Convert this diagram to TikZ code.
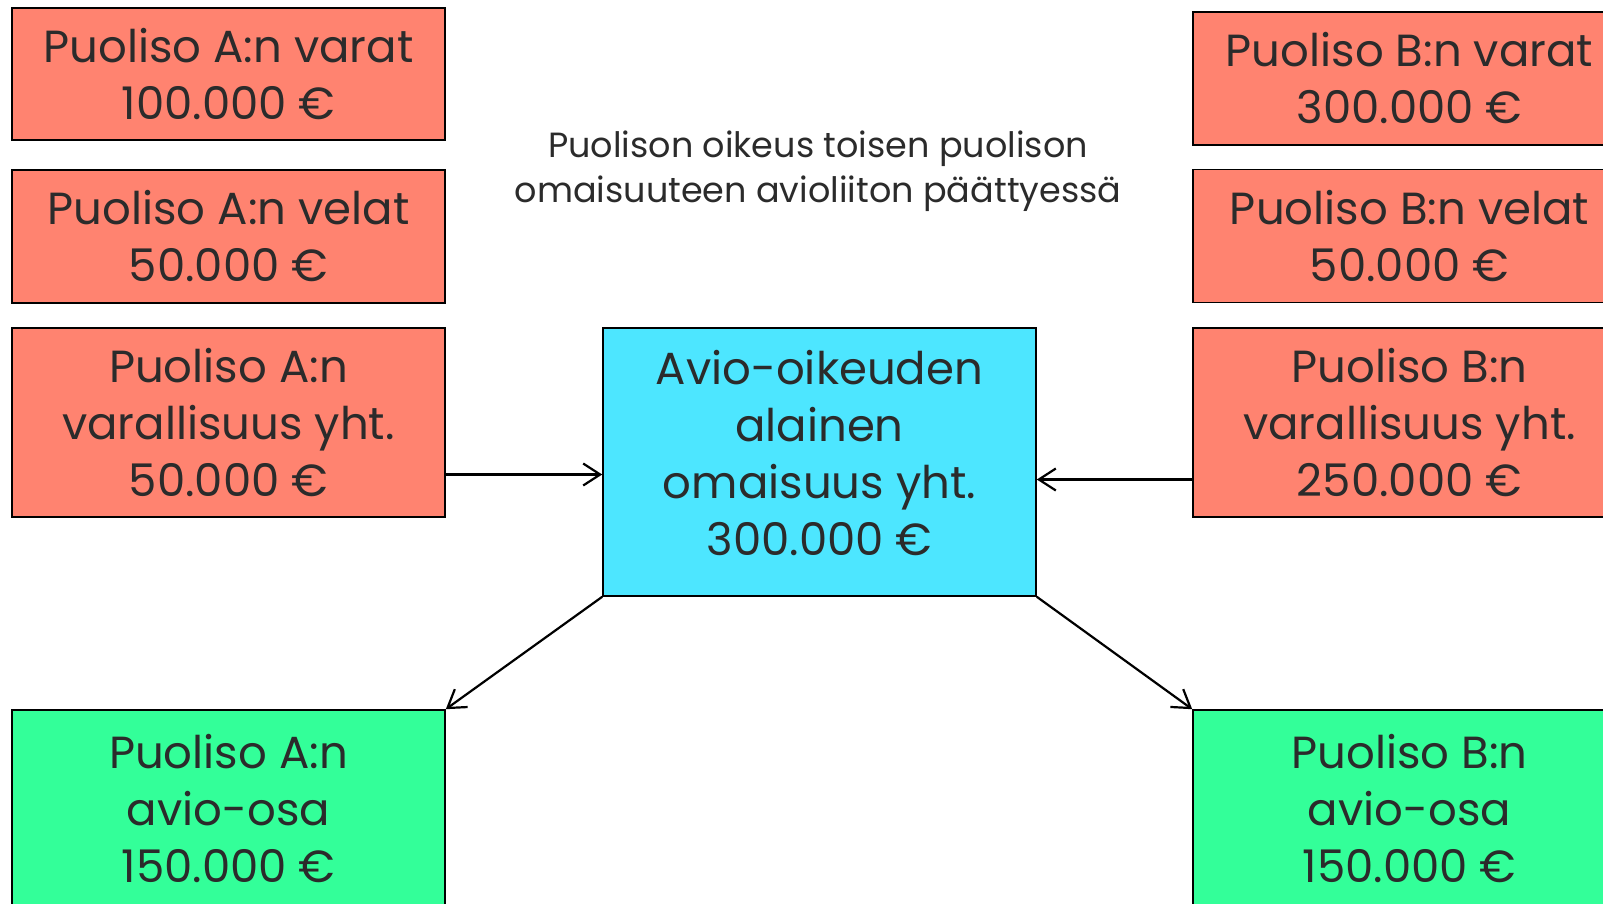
\documentclass[tikz,border=0pt]{standalone}
\usepackage{fontspec}
\setmainfont{Poppins}
\usetikzlibrary{arrows.meta}
\definecolor{lohi}{HTML}{FF8370}
\definecolor{turkoosi}{HTML}{4DE6FF}
\definecolor{vihrea}{HTML}{33FF99}
\definecolor{teksti}{HTML}{2B2B2B}
\tikzset{
	laatikko/.style={draw=black, line width=1.6pt, rectangle, align=center, text=teksti,
		minimum width=433pt, inner sep=0pt, font=\fontsize{45}{57}\selectfont},
	nuoli/.style={-{Straight Barb[length=17pt,width=22pt]}, line width=2.2pt}
}

\begin{document}
\begin{tikzpicture}[x=1pt, y=-1pt]
	\useasboundingbox (0,0) rectangle (1603,904);
	\clip (0,0) rectangle (1603,904);

	\node [laatikko, fill=lohi, minimum height=132pt] (avarat) at (228.5,74) {Puoliso A:n varat\\100.000 €};
	\node [laatikko, fill=lohi, minimum height=133pt] (avelat) at (228.5,236.5) {Puoliso A:n velat\\50.000 €};
	\node [laatikko, fill=lohi, minimum height=189pt] (avarall) at (228.5,422.5) {Puoliso A:n\\varallisuus yht.\\50.000 €};

	\node [laatikko, fill=lohi, minimum height=133pt] (bvarat) at (1409.5,78.5) {Puoliso B:n varat\\300.000 €};
	\node [laatikko, fill=lohi, minimum height=133pt] (bvelat) at (1409.5,236) {Puoliso B:n velat\\50.000 €};
	\node [laatikko, fill=lohi, minimum height=189pt] (bvarall) at (1409.5,422.5) {Puoliso B:n\\varallisuus yht.\\250.000 €};

	\node [laatikko, fill=turkoosi, minimum height=268pt, text depth=18pt] (yht) at (819.5,462) {Avio-oikeuden\\alainen\\omaisuus yht.\\300.000 €};

	\node [laatikko, fill=vihrea, minimum height=210pt, text depth=14pt] (aosa) at (228.5,815) {Puoliso A:n\\avio-osa\\150.000 €};
	\node [laatikko, fill=vihrea, minimum height=210pt, text depth=14pt] (bosa) at (1409.5,815) {Puoliso B:n\\avio-osa\\150.000 €};

	\node [align=center, text=teksti, font=\fontsize{35}{45}\selectfont] (otsikko) at (818,171)
		{Puolison oikeus toisen puolison\\omaisuuteen avioliiton päättyessä};

	\draw
		[nuoli] ([yshift=-52pt]avarall.east) -- ([yshift=-52pt]avarall.east -| yht.west);
	\draw
		[nuoli] ([yshift=-57pt]bvarall.west) -- ([yshift=-57pt]bvarall.west -| yht.east);
	\draw
		[nuoli] (yht.south west) -- (aosa.north east);
	\draw
		[nuoli] (yht.south east) -- (bosa.north west);
\end{tikzpicture}
\end{document}
